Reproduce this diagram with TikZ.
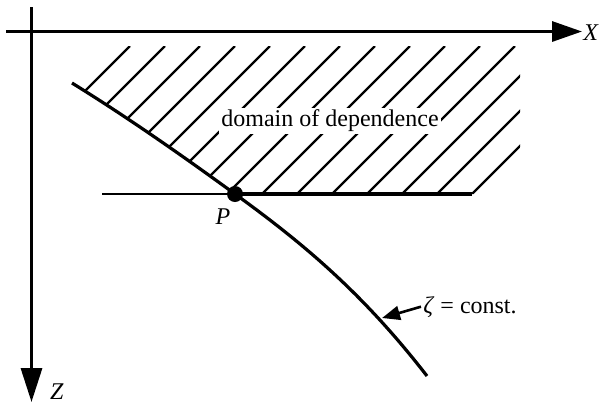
\documentclass[tikz,border=0pt]{standalone}
\usepackage{fontspec}
\setmainfont{Liberation Serif}
\usetikzlibrary{arrows.meta}

\begin{document}
\begin{tikzpicture}[
    x=0.5pt, y=-0.5pt,
    axis/.style={
        line width=1.6pt,
        -{Triangle[length=15pt, width=10pt]}
    },
    zaxis/.style={
        line width=1.6pt,
        -{Triangle[length=17pt, width=10.5pt]}
    },
    hatch/.style={line width=1.1pt},
    boundary/.style={line width=1.6pt},
    pointer/.style={line width=1.3pt, -{Triangle[length=9pt, width=7pt]}},
    dot/.style={circle, fill, inner sep=0pt, minimum size=8pt},
    txt/.style={font=\fontsize{12}{14}\selectfont, inner sep=1pt}
]
\useasboundingbox (0,0) rectangle (604,404);

\coordinate (start) at (72,83);
\coordinate (P) at (235,194);
\coordinate (end) at (427,376);
\coordinate (left) at (102,194);
\coordinate (right) at (472,194);
\coordinate (xfrom) at (6,31.5);
\coordinate (xto) at (582,31.5);
\coordinate (zfrom) at (31.5,7);
\coordinate (zto) at (31.5,402);

% hatched domain
\begin{scope}
    \clip (start) -- (109,46) -- (520,46) -- (520,194) -- (P)
        .. controls (180,154) and (127,117) .. (start) -- cycle;
    \foreach \k in {0,...,14}
        \draw[hatch] ({130+35*\k},46) -- ++(-200,200);
\end{scope}

\node[txt, fill=white] (domain) at (330,121) {domain of dependence};

\draw[hatch] (left) -- (P);
\draw[boundary] (P) -- (right);
\draw[boundary] (start) .. controls (127,117) and (180,154) .. (P)
    .. controls (307,246) and (365,296) .. (end);

\draw[axis] (xfrom) -- (xto);
\draw[zaxis] (zfrom) -- (zto);

\node[dot] (pdot) at (P) {};

\node[txt] (xlabel) at (591,33) {\textit{X}};
\node[txt] (zlabel) at (57,392) {\textit{Z}};
\node[txt] (plabel) at (223,217) {\textit{P}};
\node[txt, anchor=base west] (zeta) at (421,313) {\textit{ζ} = const.};

\coordinate (zetatip) at (382,318);
\draw[pointer] (zeta.west) -- (zetatip);

\end{tikzpicture}
\end{document}
